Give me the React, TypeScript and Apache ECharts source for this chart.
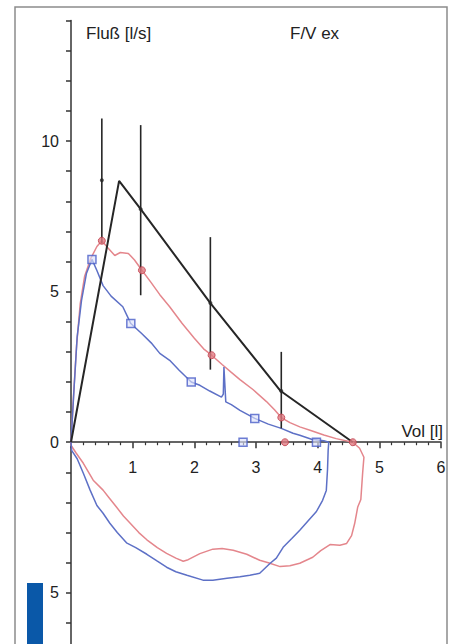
import React, { useEffect, useRef } from "react";
import * as echarts from "echarts";

// ---- axis ticks / labels ----
const yTickValues = [-6, -5, -4, -3, -2, -1, 0, 1, 2, 3, 4, 5, 6, 7, 8, 9, 10, 11, 12, 13, 14];
const yLabelValues = [-5, 0, 5, 10];
const xLabelValues = [1, 2, 3, 4, 5, 6];

// ---- predicted (black) curve ----
const predX = [0, 0.78, 1.13, 2.26, 3.4, 4.57];
const predY = [0, 8.68, 7.74, 4.62, 1.7, 0];

// ---- error bars ----
const errX = [0.5, 1.13, 2.26, 3.41];
const errMid = [8.7, 7.74, 4.62, 1.7];
const errLow = [6.6, 4.88, 2.41, 0.46];
const errHigh = [10.75, 10.53, 6.81, 3.0];

// ---- red flow-volume loop ----
const redX = [0, 0.04, 0.09, 0.15, 0.22, 0.32, 0.42, 0.5, 0.6, 0.71, 0.8, 0.93, 1.03, 1.15, 1.3, 1.44, 1.6, 1.8, 2.0, 2.15, 2.28, 2.45, 2.6, 2.74, 2.95, 3.17, 3.3, 3.41, 3.55, 3.71, 3.9, 4.1, 4.3, 4.57,
  4.68, 4.75, 4.73, 4.7, 4.65, 4.6, 4.55, 4.47, 4.36, 4.2, 4.05, 3.92, 3.71, 3.55, 3.39, 3.2, 3.06, 2.85, 2.63, 2.45, 2.3, 2.09, 1.9, 1.82, 1.7, 1.55, 1.4, 1.23, 1.1, 0.96, 0.85, 0.74, 0.62, 0.52, 0.36, 0.2, 0.08, 0, 0];
const redY = [0, 1.5, 3.2, 4.6, 5.5, 6.1, 6.5, 6.69, 6.45, 6.2, 6.3, 6.27, 6.05, 5.71, 5.3, 4.9, 4.5, 3.95, 3.45, 3.1, 2.89, 2.58, 2.32, 2.08, 1.75, 1.35, 1.08, 0.82, 0.65, 0.51, 0.38, 0.24, 0.12, 0,
  -0.2, -0.5, -1.0, -1.9, -2.15, -2.7, -3.1, -3.36, -3.42, -3.4, -3.6, -3.82, -4.02, -4.1, -4.13, -4.0, -3.92, -3.72, -3.59, -3.53, -3.55, -3.7, -3.9, -3.95, -3.85, -3.69, -3.5, -3.24, -3.0, -2.69, -2.45, -2.16, -1.85, -1.59, -1.26, -0.7, -0.35, -0.1, 0];
const redMarkX = [0.5, 1.15, 2.28, 3.41, 3.47, 4.57];
const redMarkY = [6.69, 5.71, 2.89, 0.82, 0, 0];

// ---- blue flow-volume loop ----
const blueX = [0, 0.05, 0.1, 0.17, 0.25, 0.34, 0.42, 0.52, 0.65, 0.84, 0.97, 1.15, 1.3, 1.44, 1.6, 1.75, 1.95, 2.09, 2.25, 2.44, 2.47, 2.48, 2.51, 2.6, 2.74, 2.98, 3.2, 3.41, 3.6, 3.71, 3.9, 4.1, 4.18,
  4.17, 4.16, 4.14, 4.08, 3.98, 3.85, 3.71, 3.58, 3.44, 3.33, 3.23, 3.06, 2.9, 2.74, 2.53, 2.3, 2.14, 1.88, 1.7, 1.55, 1.4, 1.23, 1.05, 0.9, 0.75, 0.63, 0.52, 0.42, 0.31, 0.2, 0.1, 0.01, 0];
const blueY = [0, 1.8, 3.5, 4.7, 5.6, 6.07, 5.7, 5.2, 4.85, 4.5, 3.94, 3.6, 3.3, 2.95, 2.72, 2.4, 2.0, 1.89, 1.7, 1.5, 1.6, 2.5, 1.34, 1.25, 1.06, 0.79, 0.6, 0.46, 0.3, 0.23, 0.1, 0.05, 0,
  -0.27, -0.9, -1.6, -1.93, -2.3, -2.6, -2.92, -3.2, -3.49, -3.85, -4.02, -4.35, -4.42, -4.47, -4.52, -4.58, -4.58, -4.42, -4.3, -4.15, -3.95, -3.72, -3.5, -3.34, -3.0, -2.69, -2.36, -2.1, -1.59, -1.03, -0.55, -0.27, 0];
const blueMarkX = [0.34, 0.97, 1.95, 2.98, 2.79, 3.98];
const blueMarkY = [6.07, 3.94, 2.0, 0.79, 0, 0];

const zip = (xs: number[], ys: number[]) => xs.map((x, i) => [x, ys[i]]);

const FONT = "Liberation Sans";
const AXIS_COLOR = "#333333";
const TEXT_COLOR = "#222222";

export default function App() {
  const ref = useRef<HTMLDivElement>(null);
  useEffect(() => {
    if (!ref.current) return;
    const chart = echarts.init(ref.current, undefined, { renderer: "svg" });
    chart.setOption({
      animation: false,
      backgroundColor: "#ffffff",
      grid: { left: 71, top: 20.6, width: 370, height: 623.4, containLabel: false },
      xAxis: {
        type: "value",
        min: 0,
        max: 6,
        interval: 1,
        axisLine: { show: true, onZero: true, lineStyle: { color: AXIS_COLOR, width: 1.5 } },
        axisTick: { show: true, length: 6, lineStyle: { color: AXIS_COLOR, width: 1.5 } },
        minorTick: { show: true, splitNumber: 5, length: 3, lineStyle: { color: AXIS_COLOR, width: 1.2 } },
        axisLabel: { show: false },
        splitLine: { show: false },
      },
      yAxis: {
        type: "value",
        min: -6.7,
        max: 14,
        axisLine: { show: true, onZero: false, lineStyle: { color: AXIS_COLOR, width: 1.5 } },
        axisTick: { show: true, length: 5, customValues: yTickValues, lineStyle: { color: AXIS_COLOR, width: 1.5 } },
        axisLabel: {
          margin: 12,
          fontFamily: FONT,
          fontSize: 16,
          color: TEXT_COLOR,
          customValues: yLabelValues,
          formatter: (v: number) => String(Math.abs(v)),
        },
        splitLine: { show: false },
      },
      graphic: [
        { type: "rect", shape: { x: 15, y: 7, width: 432, height: 700 }, style: { fill: "none", stroke: "#8c8c8c", lineWidth: 1.5 }, silent: true },
        { type: "rect", shape: { x: 27, y: 583, width: 16, height: 70 }, style: { fill: "#0a58a8" }, silent: true },
        { type: "text", x: 86, y: 33, style: { text: "Fluß [l/s]", fontFamily: FONT, fontSize: 17, fill: TEXT_COLOR, textVerticalAlign: "middle" } },
        { type: "text", x: 290, y: 33, style: { text: "F/V ex", fontFamily: FONT, fontSize: 17, fill: TEXT_COLOR, textVerticalAlign: "middle" } },
        { type: "text", x: 443, y: 431, style: { text: "Vol [l]", fontFamily: FONT, fontSize: 17, fill: TEXT_COLOR, textAlign: "right", textVerticalAlign: "middle" } },
      ],
      series: [
        {
          type: "line",
          data: zip(redX, redY),
          showSymbol: false,
          lineStyle: { color: "#e4868c", width: 1.5 },
          z: 2,
        },
        {
          type: "line",
          data: zip(blueX, blueY),
          showSymbol: false,
          lineStyle: { color: "#5d70c6", width: 1.5 },
          z: 2,
        },
        {
          type: "line",
          data: zip(predX, predY),
          showSymbol: false,
          lineStyle: { color: "#262626", width: 2 },
          z: 3,
        },
        {
          type: "custom",
          data: errX.map((x, i) => [x, errLow[i], errHigh[i]]),
          renderItem: (params: any, api: any) => {
            const x = api.value(0);
            const p1 = api.coord([x, api.value(1)]);
            const p2 = api.coord([x, api.value(2)]);
            return {
              type: "line",
              shape: { x1: p1[0], y1: p1[1], x2: p2[0], y2: p2[1] },
              style: { stroke: "#262626", lineWidth: 1.6 },
            };
          },
          z: 3,
        },
        {
          type: "scatter",
          data: zip(errX, errMid),
          symbol: "circle",
          symbolSize: 4,
          itemStyle: { color: "#262626" },
          z: 4,
        },
        {
          type: "scatter",
          data: zip(redMarkX, redMarkY),
          symbol: "circle",
          symbolSize: 7,
          itemStyle: { color: "#e07a82", borderColor: "#c23e4c", borderWidth: 1 },
          z: 5,
        },
        {
          type: "scatter",
          data: zip(blueMarkX, blueMarkY),
          symbol: "rect",
          symbolSize: 8,
          itemStyle: { color: "rgba(220,226,250,0.8)", borderColor: "#4a5ec8", borderWidth: 1.5 },
          z: 5,
        },
        {
          // x-axis tick labels, placed on the zero line via the axis scale
          type: "custom",
          data: xLabelValues.map((v) => [v, 0]),
          silent: true,
          renderItem: (params: any, api: any) => {
            const p = api.coord([api.value(0), api.value(1)]);
            return {
              type: "text",
              x: p[0],
              y: p[1] + 25,
              style: {
                text: String(api.value(0)),
                fontFamily: FONT,
                fontSize: 16,
                fill: TEXT_COLOR,
                align: "center",
                verticalAlign: "middle",
              },
            };
          },
          z: 6,
        },
      ],
    });
    return () => chart.dispose();
  }, []);
  return (
    <div
      ref={ref}
      style={{ position: "fixed", left: 0, top: 0, width: 453, height: 644, background: "#fff" }}
    />
  );
}
